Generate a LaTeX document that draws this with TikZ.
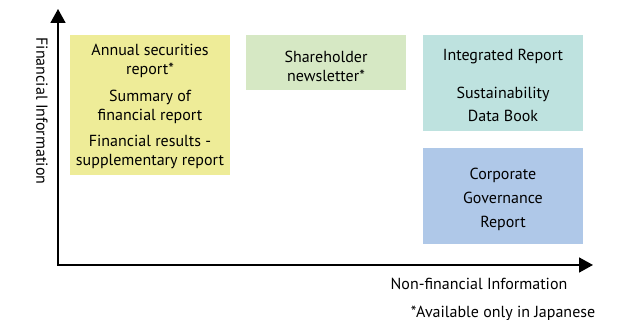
\documentclass[tikz,border=0pt]{standalone}
\usepackage{fontspec}
\setmainfont{PT Sans}
\usetikzlibrary{arrows.meta}
\definecolor{boxyellow}{HTML}{EEEC98}
\definecolor{boxgreen}{HTML}{D6E8C4}
\definecolor{boxteal}{HTML}{BEE2DF}
\definecolor{boxblue}{HTML}{AFC8E8}
\begin{document}
\begin{tikzpicture}[x=1pt,y=-1pt,
  axis/.style={line width=1.8pt,-{Triangle[length=14pt,width=15pt]}},
  panel/.style={anchor=north west,inner sep=0pt,outer sep=0pt},
  label/.style={font=\fontsize{16}{19}\selectfont,align=center,inner sep=0pt}]
\useasboundingbox (0,0) rectangle (630,320);
% coloured panels
\node[panel,fill=boxyellow,minimum width=160pt,minimum height=140pt] (fin) at (70,35) {};
\node[panel,fill=boxgreen,minimum width=160pt,minimum height=55pt] (news) at (246,35) {};
\node[panel,fill=boxteal,minimum width=160pt,minimum height=96pt] (integ) at (423,35) {};
\node[panel,fill=boxblue,minimum width=160pt,minimum height=96pt] (gov) at (423,148) {};
% panel texts
\node[label] (t1) at (150,61) {Annual securities\\report*};
\node[label] (t2) at (150,107) {Summary of\\financial report};
\node[label] (t3) at (150,152) {Financial results -\\supplementary report};
\node[label] (t4) at (326,66) {Shareholder\\newsletter*};
\node[label] (t5) at (503,57) {Integrated Report};
\node[label,font=\fontsize{16}{23}\selectfont] (t6) at (503,104) {Sustainability\\Data Book};
\node[label,font=\fontsize{16}{24}\selectfont] (t7) at (503,199) {Corporate\\Governance\\Report};
% axes
\coordinate (origin) at (58,265);
\coordinate (ytip) at (58,9);
\coordinate (xtip) at (593,265);
\draw[axis] (origin) -- (ytip);
\draw[axis] ([xshift=-0.9pt]origin) -- (xtip);
\node[label,rotate=-90] (ylab) at (42,111) {Financial Information};
\node[label] (xlab) at (479,284) {Non-financial Information};
\node[label] (note) at (503,313) {*Available only in Japanese};
\end{tikzpicture}
\end{document}
